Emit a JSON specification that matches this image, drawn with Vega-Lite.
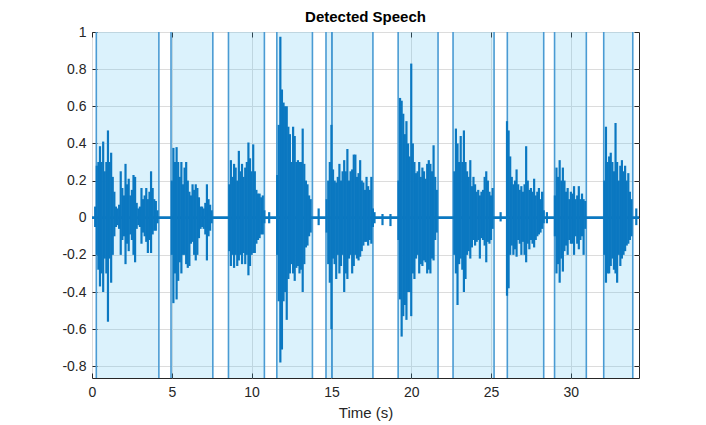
{
  "$schema": "https://vega.github.io/schema/vega-lite/v6.json",
  "width": 547,
  "height": 346,
  "autosize": {"type": "none"},
  "padding": {"left": 92, "top": 32, "right": 67, "bottom": 47},
  "background": "white",
  "config": {
    "view": {"stroke": "#262626", "strokeWidth": 1},
    "font": "Liberation Sans",
    "axis": {"labelFont": "Liberation Sans", "titleFont": "Liberation Sans", "labelColor": "#262626", "titleColor": "#262626", "tickColor": "#262626", "domain": false, "gridColor": "#dcdcdc", "gridWidth": 1, "labelFontSize": 14, "titleFontSize": 15, "titleFontWeight": "normal", "labelFlush": false}
  },
  "title": {"text": "Detected Speech", "fontSize": 15, "fontWeight": "bold", "font": "Liberation Sans", "color": "#000000", "offset": 0, "anchor": "middle"},
  "datasets": {
    "seg": [
      {"s": 0.27, "e": 4.19}, {"s": 4.95, "e": 7.57}, {"s": 8.55, "e": 10.8}, {"s": 11.58, "e": 13.81},
      {"s": 14.66, "e": 15.03}, {"s": 15.03, "e": 17.6}, {"s": 19.18, "e": 21.68}, {"s": 22.62, "e": 25.19},
      {"s": 26.02, "e": 28.3}, {"s": 28.98, "e": 30.97}, {"s": 32.06, "e": 33.88}
    ],
    "wave": [
      {"t":0.2,"h":0.06,"l":-0.05},{"t":0.3,"h":0.28,"l":-0.2},{"t":0.4,"h":0.3,"l":-0.28},{"t":0.5,"h":0.385,"l":-0.37},{"t":0.6,"h":0.3,"l":-0.3},{"t":0.7,"h":0.41,"l":-0.4},{"t":0.8,"h":0.25,"l":-0.22},{"t":0.9,"h":0.3,"l":-0.3},{"t":1.0,"h":0.47,"l":-0.56},{"t":1.1,"h":0.3,"l":-0.22},{"t":1.2,"h":0.35,"l":-0.35},{"t":1.3,"h":0.22,"l":-0.2},{"t":1.4,"h":0.14,"l":-0.1},{"t":1.5,"h":0.06,"l":-0.05},{"t":1.6,"h":0.05,"l":-0.04},{"t":1.7,"h":0.07,"l":-0.06},{"t":1.8,"h":0.25,"l":-0.2},{"t":1.9,"h":0.16,"l":-0.12},{"t":2.0,"h":0.12,"l":-0.1},{"t":2.1,"h":0.29,"l":-0.25},{"t":2.2,"h":0.18,"l":-0.14},{"t":2.3,"h":0.21,"l":-0.18},{"t":2.4,"h":0.12,"l":-0.09},{"t":2.5,"h":0.15,"l":-0.12},{"t":2.6,"h":0.23,"l":-0.2},{"t":2.7,"h":0.22,"l":-0.24},{"t":2.8,"h":0.08,"l":-0.06},{"t":2.9,"h":0.05,"l":-0.04},{"t":3.0,"h":0.06,"l":-0.05},{"t":3.1,"h":0.16,"l":-0.14},{"t":3.2,"h":0.1,"l":-0.08},{"t":3.3,"h":0.12,"l":-0.1},{"t":3.4,"h":0.16,"l":-0.13},{"t":3.5,"h":0.1,"l":-0.19},{"t":3.6,"h":0.14,"l":-0.12},{"t":3.7,"h":0.25,"l":-0.19},{"t":3.8,"h":0.16,"l":-0.09},{"t":3.9,"h":0.1,"l":-0.07},{"t":4.0,"h":0.09,"l":-0.07},{"t":4.1,"h":0.04,"l":-0.03},
      {"t":5.0,"h":0.2,"l":-0.2},{"t":5.1,"h":0.376,"l":-0.46},{"t":5.2,"h":0.3,"l":-0.3},{"t":5.3,"h":0.38,"l":-0.44},{"t":5.4,"h":0.3,"l":-0.34},{"t":5.5,"h":0.22,"l":-0.24},{"t":5.6,"h":0.3,"l":-0.3},{"t":5.7,"h":0.18,"l":-0.2},{"t":5.8,"h":0.27,"l":-0.2},{"t":5.9,"h":0.3,"l":-0.25},{"t":6.0,"h":0.2,"l":-0.27},{"t":6.1,"h":0.14,"l":-0.26},{"t":6.2,"h":0.12,"l":-0.14},{"t":6.3,"h":0.18,"l":-0.13},{"t":6.4,"h":0.15,"l":-0.2},{"t":6.5,"h":0.18,"l":-0.23},{"t":6.6,"h":0.16,"l":-0.2},{"t":6.7,"h":0.11,"l":-0.11},{"t":6.8,"h":0.06,"l":-0.06},{"t":6.9,"h":0.06,"l":-0.05},{"t":7.0,"h":0.05,"l":-0.06},{"t":7.1,"h":0.08,"l":-0.09},{"t":7.2,"h":0.18,"l":-0.23},{"t":7.3,"h":0.1,"l":-0.1},{"t":7.4,"h":0.07,"l":-0.07},{"t":7.5,"h":0.04,"l":-0.03},
      {"t":8.6,"h":0.18,"l":-0.18},{"t":8.7,"h":0.31,"l":-0.26},{"t":8.8,"h":0.22,"l":-0.2},{"t":8.9,"h":0.29,"l":-0.27},{"t":9.0,"h":0.27,"l":-0.2},{"t":9.1,"h":0.2,"l":-0.26},{"t":9.2,"h":0.36,"l":-0.23},{"t":9.3,"h":0.25,"l":-0.2},{"t":9.4,"h":0.29,"l":-0.25},{"t":9.5,"h":0.22,"l":-0.19},{"t":9.6,"h":0.27,"l":-0.25},{"t":9.7,"h":0.3,"l":-0.2},{"t":9.8,"h":0.405,"l":-0.31},{"t":9.9,"h":0.32,"l":-0.26},{"t":10.0,"h":0.25,"l":-0.2},{"t":10.1,"h":0.395,"l":-0.19},{"t":10.2,"h":0.25,"l":-0.19},{"t":10.3,"h":0.15,"l":-0.14},{"t":10.4,"h":0.13,"l":-0.12},{"t":10.5,"h":0.13,"l":-0.11},{"t":10.6,"h":0.11,"l":-0.09},{"t":10.7,"h":0.12,"l":-0.09},{"t":10.8,"h":0.04,"l":-0.03},{"t":11.1,"h":0.03,"l":-0.03},
      {"t":11.6,"h":0.23,"l":-0.2},{"t":11.7,"h":0.5,"l":-0.45},{"t":11.8,"h":0.975,"l":-0.78},{"t":11.9,"h":0.69,"l":-0.71},{"t":12.0,"h":0.62,"l":-0.45},{"t":12.1,"h":0.6,"l":-0.4},{"t":12.2,"h":0.6,"l":-0.55},{"t":12.3,"h":0.49,"l":-0.33},{"t":12.4,"h":0.45,"l":-0.3},{"t":12.5,"h":0.3,"l":-0.25},{"t":12.6,"h":0.49,"l":-0.3},{"t":12.7,"h":0.44,"l":-0.34},{"t":12.8,"h":0.3,"l":-0.27},{"t":12.9,"h":0.31,"l":-0.26},{"t":13.0,"h":0.3,"l":-0.3},{"t":13.1,"h":0.3,"l":-0.28},{"t":13.2,"h":0.48,"l":-0.4},{"t":13.3,"h":0.29,"l":-0.25},{"t":13.4,"h":0.2,"l":-0.16},{"t":13.5,"h":0.18,"l":-0.15},{"t":13.6,"h":0.12,"l":-0.1},{"t":13.7,"h":0.1,"l":-0.08},{"t":14.2,"h":0.05,"l":-0.04},
      {"t":14.7,"h":0.1,"l":-0.08},{"t":14.8,"h":0.2,"l":-0.25},{"t":14.9,"h":0.3,"l":-0.35},{"t":15.0,"h":0.5,"l":-0.6},
      {"t":15.1,"h":0.26,"l":-0.22},{"t":15.2,"h":0.2,"l":-0.25},{"t":15.3,"h":0.19,"l":-0.33},{"t":15.4,"h":0.22,"l":-0.2},{"t":15.5,"h":0.29,"l":-0.3},{"t":15.6,"h":0.2,"l":-0.26},{"t":15.7,"h":0.25,"l":-0.2},{"t":15.8,"h":0.31,"l":-0.4},{"t":15.9,"h":0.25,"l":-0.3},{"t":16.0,"h":0.37,"l":-0.33},{"t":16.1,"h":0.2,"l":-0.22},{"t":16.2,"h":0.25,"l":-0.2},{"t":16.3,"h":0.26,"l":-0.3},{"t":16.4,"h":0.34,"l":-0.26},{"t":16.5,"h":0.34,"l":-0.2},{"t":16.6,"h":0.22,"l":-0.22},{"t":16.7,"h":0.24,"l":-0.23},{"t":16.8,"h":0.31,"l":-0.21},{"t":16.9,"h":0.2,"l":-0.18},{"t":17.0,"h":0.19,"l":-0.15},{"t":17.1,"h":0.15,"l":-0.13},{"t":17.2,"h":0.22,"l":-0.13},{"t":17.3,"h":0.17,"l":-0.15},{"t":17.4,"h":0.15,"l":-0.12},{"t":17.5,"h":0.22,"l":-0.14},{"t":17.6,"h":0.05,"l":-0.05},{"t":17.7,"h":0.03,"l":-0.03},{"t":18.2,"h":0.02,"l":-0.04},{"t":18.7,"h":0.02,"l":-0.045},
      {"t":19.2,"h":0.2,"l":-0.12},{"t":19.3,"h":0.645,"l":-0.44},{"t":19.4,"h":0.63,"l":-0.64},{"t":19.5,"h":0.56,"l":-0.53},{"t":19.6,"h":0.45,"l":-0.47},{"t":19.7,"h":0.52,"l":-0.55},{"t":19.8,"h":0.4,"l":-0.4},{"t":19.9,"h":0.33,"l":-0.4},{"t":20.0,"h":0.83,"l":-0.53},{"t":20.1,"h":0.4,"l":-0.3},{"t":20.2,"h":0.3,"l":-0.33},{"t":20.3,"h":0.24,"l":-0.22},{"t":20.4,"h":0.25,"l":-0.2},{"t":20.5,"h":0.3,"l":-0.3},{"t":20.6,"h":0.22,"l":-0.25},{"t":20.7,"h":0.27,"l":-0.26},{"t":20.8,"h":0.25,"l":-0.23},{"t":20.9,"h":0.21,"l":-0.24},{"t":21.0,"h":0.29,"l":-0.3},{"t":21.1,"h":0.31,"l":-0.28},{"t":21.2,"h":0.29,"l":-0.3},{"t":21.3,"h":0.25,"l":-0.22},{"t":21.4,"h":0.39,"l":-0.23},{"t":21.5,"h":0.22,"l":-0.12},{"t":21.6,"h":0.15,"l":-0.08},
      {"t":22.7,"h":0.25,"l":-0.2},{"t":22.8,"h":0.48,"l":-0.3},{"t":22.9,"h":0.4,"l":-0.47},{"t":23.0,"h":0.3,"l":-0.25},{"t":23.1,"h":0.44,"l":-0.22},{"t":23.2,"h":0.3,"l":-0.28},{"t":23.3,"h":0.47,"l":-0.4},{"t":23.4,"h":0.3,"l":-0.33},{"t":23.5,"h":0.25,"l":-0.2},{"t":23.6,"h":0.22,"l":-0.18},{"t":23.7,"h":0.31,"l":-0.22},{"t":23.8,"h":0.17,"l":-0.16},{"t":23.9,"h":0.22,"l":-0.12},{"t":24.0,"h":0.18,"l":-0.15},{"t":24.1,"h":0.14,"l":-0.13},{"t":24.2,"h":0.15,"l":-0.12},{"t":24.3,"h":0.12,"l":-0.22},{"t":24.4,"h":0.14,"l":-0.11},{"t":24.5,"h":0.15,"l":-0.12},{"t":24.6,"h":0.22,"l":-0.15},{"t":24.7,"h":0.25,"l":-0.24},{"t":24.8,"h":0.2,"l":-0.13},{"t":24.9,"h":0.14,"l":-0.14},{"t":25.0,"h":0.12,"l":-0.12},{"t":25.1,"h":0.16,"l":-0.06},{"t":25.6,"h":0.03,"l":-0.02},
      {"t":26.0,"h":0.52,"l":-0.42},{"t":26.1,"h":0.47,"l":-0.38},{"t":26.2,"h":0.33,"l":-0.2},{"t":26.3,"h":0.22,"l":-0.15},{"t":26.4,"h":0.18,"l":-0.2},{"t":26.5,"h":0.2,"l":-0.17},{"t":26.6,"h":0.26,"l":-0.21},{"t":26.7,"h":0.18,"l":-0.12},{"t":26.8,"h":0.15,"l":-0.14},{"t":26.9,"h":0.17,"l":-0.2},{"t":27.0,"h":0.14,"l":-0.13},{"t":27.1,"h":0.18,"l":-0.2},{"t":27.2,"h":0.385,"l":-0.24},{"t":27.3,"h":0.2,"l":-0.14},{"t":27.4,"h":0.15,"l":-0.17},{"t":27.5,"h":0.16,"l":-0.12},{"t":27.6,"h":0.14,"l":-0.14},{"t":27.7,"h":0.21,"l":-0.16},{"t":27.8,"h":0.12,"l":-0.12},{"t":27.9,"h":0.14,"l":-0.1},{"t":28.0,"h":0.16,"l":-0.09},{"t":28.1,"h":0.1,"l":-0.08},{"t":28.2,"h":0.14,"l":-0.06},{"t":28.3,"h":0.04,"l":-0.03},{"t":28.5,"h":0.03,"l":-0.03},
      {"t":29.0,"h":0.12,"l":-0.1},{"t":29.1,"h":0.27,"l":-0.3},{"t":29.2,"h":0.22,"l":-0.25},{"t":29.3,"h":0.31,"l":-0.35},{"t":29.4,"h":0.2,"l":-0.22},{"t":29.5,"h":0.27,"l":-0.29},{"t":29.6,"h":0.2,"l":-0.18},{"t":29.7,"h":0.14,"l":-0.15},{"t":29.8,"h":0.16,"l":-0.2},{"t":29.9,"h":0.1,"l":-0.12},{"t":30.0,"h":0.14,"l":-0.14},{"t":30.1,"h":0.13,"l":-0.14},{"t":30.2,"h":0.17,"l":-0.2},{"t":30.3,"h":0.1,"l":-0.1},{"t":30.4,"h":0.12,"l":-0.14},{"t":30.5,"h":0.17,"l":-0.17},{"t":30.6,"h":0.1,"l":-0.12},{"t":30.7,"h":0.13,"l":-0.1},{"t":30.8,"h":0.1,"l":-0.2},{"t":30.9,"h":0.09,"l":-0.06},
      {"t":32.1,"h":0.2,"l":-0.2},{"t":32.2,"h":0.49,"l":-0.35},{"t":32.3,"h":0.3,"l":-0.3},{"t":32.4,"h":0.33,"l":-0.3},{"t":32.5,"h":0.35,"l":-0.26},{"t":32.6,"h":0.3,"l":-0.22},{"t":32.7,"h":0.25,"l":-0.28},{"t":32.8,"h":0.51,"l":-0.3},{"t":32.9,"h":0.3,"l":-0.35},{"t":33.0,"h":0.2,"l":-0.2},{"t":33.1,"h":0.28,"l":-0.26},{"t":33.2,"h":0.31,"l":-0.22},{"t":33.3,"h":0.25,"l":-0.2},{"t":33.4,"h":0.28,"l":-0.18},{"t":33.5,"h":0.2,"l":-0.15},{"t":33.6,"h":0.24,"l":-0.14},{"t":33.7,"h":0.14,"l":-0.12},{"t":33.8,"h":0.1,"l":-0.1},{"t":34.1,"h":0.05,"l":-0.04}
    ]
  },
  "resolve": {"axis": {"x": "independent", "y": "independent"}},
  "layer": [
    {
      "data": {"name": "seg"},
      "mark": {"type": "rect", "fill": "#4DBEEE", "opacity": 0.2},
      "encoding": {
        "x": {"field": "s", "type": "quantitative", "scale": {"domain": [0, 34.27], "nice": false, "zero": false},
              "axis": {"orient": "bottom", "values": [0, 5, 10, 15, 20, 25, 30], "grid": true, "tickSize": -5, "labelPadding": 12, "title": "Time (s)", "titlePadding": 6}},
        "x2": {"field": "e"},
        "y": {"datum": -0.863, "type": "quantitative", "scale": {"domain": [-0.863, 1], "nice": false, "zero": false},
              "axis": {"orient": "left", "values": [-0.8, -0.6, -0.4, -0.2, 0, 0.2, 0.4, 0.6, 0.8, 1], "grid": true, "tickSize": -5, "labelPadding": 11, "labelExpr": "replace(format(datum.value, '.1~f'), '\u2212', '-')", "title": null}},
        "y2": {"datum": 1}
      }
    },
    {
      "data": {"name": "seg"},
      "mark": {"type": "rule", "color": "#4a9bd3", "strokeWidth": 1.6},
      "encoding": {
        "x": {"field": "s", "type": "quantitative", "axis": {"orient": "top", "values": [0, 5, 10, 15, 20, 25, 30], "grid": false, "tickSize": -5, "labels": false, "title": null}},
        "y": {"datum": -0.863, "type": "quantitative", "axis": {"orient": "right", "values": [-0.8, -0.6, -0.4, -0.2, 0, 0.2, 0.4, 0.6, 0.8, 1], "grid": false, "tickSize": -5, "labels": false, "title": null}},
        "y2": {"datum": 1}
      }
    },
    {
      "data": {"name": "seg"},
      "mark": {"type": "rule", "color": "#4a9bd3", "strokeWidth": 1.6},
      "encoding": {
        "x": {"field": "e", "type": "quantitative", "axis": null},
        "y": {"datum": -0.863, "type": "quantitative", "axis": null},
        "y2": {"datum": 1}
      }
    },
    {
      "data": {"values": [{"z": 0}]},
      "mark": {"type": "rule", "color": "#0b78c1", "strokeWidth": 2.8},
      "encoding": {
        "y": {"field": "z", "type": "quantitative", "axis": null}
      }
    },
    {
      "data": {"name": "wave"},
      "mark": {"type": "rule", "color": "#0b78c1", "strokeWidth": 2.2},
      "encoding": {
        "x": {"field": "t", "type": "quantitative", "axis": null},
        "y": {"field": "l", "type": "quantitative", "axis": null},
        "y2": {"field": "h"}
      }
    }
  ]
}
